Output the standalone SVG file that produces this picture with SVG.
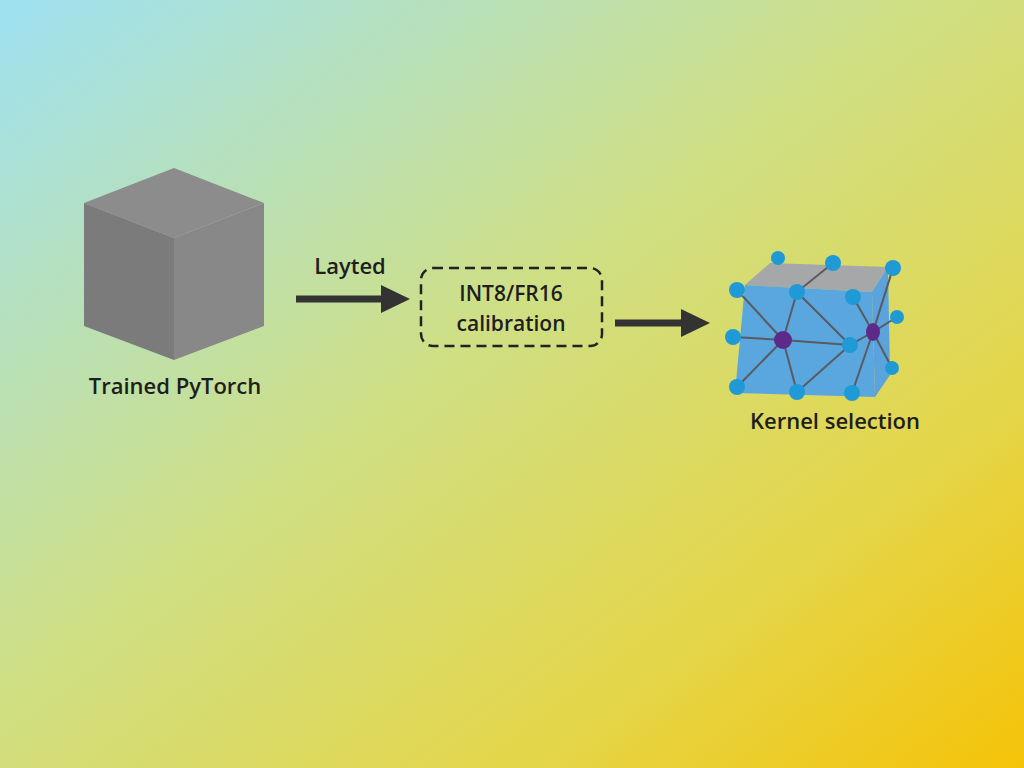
<svg xmlns="http://www.w3.org/2000/svg" width="1024" height="768" viewBox="0 0 1024 768">
<defs>
<linearGradient id="bg" x1="0" y1="0" x2="1" y2="1">
<stop offset="0" stop-color="#9ee1f2"/>
<stop offset="0.45" stop-color="#cfdf84"/>
<stop offset="0.75" stop-color="#e4d64a"/>
<stop offset="1" stop-color="#f5c308"/>
</linearGradient>
<style>
text{font-family:"Open Sans","Liberation Sans",sans-serif;fill:#1e1e1e;text-anchor:middle;font-size:22px;font-weight:600}
.s{font-size:21px}
.e{stroke:#5a5a60;stroke-width:2}
.b{fill:#1f9ad6}
.p{fill:#5e2a8a}
</style>
</defs>
<rect width="1024" height="768" fill="url(#bg)"/>
<g id="pytorch">
<polygon points="84,203 174,168 264,203 174,238" fill="#8c8c8c"/>
<polygon points="84,203 174,238 174,360 84,326" fill="#7b7b7b"/>
<polygon points="174,238 264,203 264,326 174,360" fill="#888888"/>
<text x="175" y="394">Trained PyTorch</text>
</g>
<g id="connectors">
<text x="350" y="274">Layted</text>
<line x1="296" y1="299" x2="385" y2="299" stroke="#333" stroke-width="7"/>
<polygon points="381,285 410,299 381,313" fill="#333"/>
<line x1="615" y1="323" x2="685" y2="323" stroke="#333" stroke-width="7"/>
<polygon points="681,309 710,323 681,337" fill="#333"/>
</g>
<g id="calibration">
<rect x="421" y="268" width="181" height="78" rx="12" fill="none" stroke="#222" stroke-width="2.5" stroke-dasharray="10,6"/>
<text class="s" x="511" y="301">INT8/FR16</text>
<text class="s" x="511" y="331">calibration</text>
</g>
<g id="kernel">
<polygon points="745,285 770,263 888,267 872,292" fill="#a5a7a9"/>
<polygon points="745,285 872,292 875,397 735,393" fill="#5aa6df"/>
<polygon points="872,292 888,267 890,375 875,397" fill="#5ba3dc"/>
<g class="e">
<line x1="783" y1="340" x2="737" y2="290"/><line x1="783" y1="340" x2="797" y2="292"/>
<line x1="783" y1="340" x2="733" y2="337"/><line x1="783" y1="340" x2="850" y2="345"/>
<line x1="783" y1="340" x2="737" y2="387"/><line x1="783" y1="340" x2="797" y2="392"/>
<line x1="797" y1="292" x2="850" y2="345"/><line x1="850" y1="345" x2="797" y2="392"/>
<line x1="797" y1="292" x2="833" y2="263"/>
<line x1="873" y1="332" x2="853" y2="297"/><line x1="873" y1="332" x2="893" y2="268"/>
<line x1="873" y1="332" x2="897" y2="317"/><line x1="873" y1="332" x2="892" y2="368"/>
<line x1="873" y1="332" x2="852" y2="393"/><line x1="873" y1="332" x2="850" y2="345"/>
</g>
<g class="b">
<circle cx="737" cy="290" r="8"/><circle cx="778" cy="258" r="7"/><circle cx="833" cy="263" r="8"/>
<circle cx="893" cy="268" r="8"/><circle cx="797" cy="292" r="8"/><circle cx="853" cy="297" r="8"/>
<circle cx="897" cy="317" r="7"/><circle cx="733" cy="337" r="8"/><circle cx="850" cy="345" r="8"/>
<circle cx="892" cy="368" r="7"/><circle cx="737" cy="387" r="8"/><circle cx="797" cy="392" r="8"/>
<circle cx="852" cy="393" r="8"/>
</g>
<circle class="p" cx="783" cy="340" r="9"/>
<ellipse class="p" cx="873" cy="332" rx="7" ry="9"/>
<text x="835" y="429">Kernel selection</text>
</g>
</svg>
